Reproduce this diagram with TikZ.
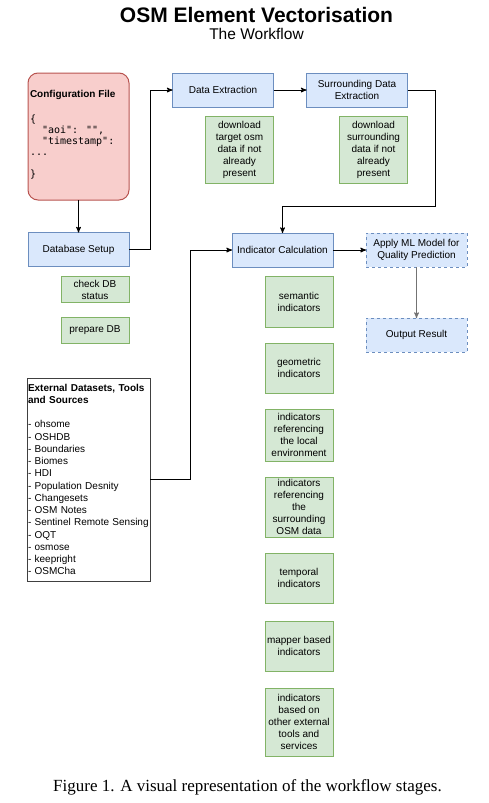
\documentclass[tikz,border=0pt]{standalone}
\usepackage{fontspec}
\setmainfont{Liberation Sans}
\newfontfamily\codefont{DejaVu Sans Mono}
\newfontfamily\captionfont{Liberation Serif}
\usepackage{xcolor}
\usetikzlibrary{arrows,positioning}
\definecolor{blueFill}{HTML}{DAE8FC}
\definecolor{blueLine}{HTML}{6C8EBF}
\definecolor{greenFill}{HTML}{D5E8D4}
\definecolor{greenLine}{HTML}{82B366}
\definecolor{redFill}{HTML}{F8CECC}
\definecolor{redLine}{HTML}{B85450}

\begin{document}
\begin{tikzpicture}[x=1pt,y=-1pt,>=stealth',line width=1pt,
                    font=\fontsize{10}{12}\selectfont,
                    stage/.style={rectangle,draw=blueLine,fill=blueFill,minimum width=101pt,minimum height=34pt,align=center,inner sep=1pt,outer sep=0pt},
                    optional/.style={dash pattern=on 3pt off 3pt},
                    todo/.style={rectangle,draw=greenLine,fill=greenFill,minimum width=68pt,align=center,inner sep=1pt,outer sep=0pt}]
  \useasboundingbox (0,0) rectangle (488,803);

  % Title
  \node[font=\bfseries\fontsize{21}{24}\selectfont] (title) at (256.5,15) {OSM Element Vectorisation};
  \node[font=\fontsize{15.5}{18}\selectfont] (subtitle) at (256.5,34) {The Workflow};

  % Nodes
  \node[rectangle,draw=redLine,fill=redFill,rounded corners=10pt,minimum width=101pt,minimum height=127pt,outer sep=0pt] (config) at (78.5,136.5) {};
  \node[anchor=west,font=\bfseries\fontsize{10}{12}\selectfont,inner sep=0pt] (configtitle) at (29.5,95) {Configuration File};
  \node[anchor=north west,font=\codefont\fontsize{10}{11}\selectfont,align=left,inner sep=0pt] (configcode) at (29.5,114) {\{\\\phantom{xx}"aoi": "",\\\phantom{xx}"timestamp":\\...\\[11pt]\}};

  \node[stage] (dbsetup) at (78.5,249.5) {Database Setup};
  \node[todo,minimum height=26pt,below=10pt of dbsetup.south east,anchor=north east] (checkdb) {check DB\\status};
  \node[todo,minimum height=26pt,below=15pt of checkdb] (preparedb) {prepare DB};

  \node[stage] (dataext) at (223,90) {Data Extraction};
  \node[stage,right=33pt of dataext] (surrext) {Surrounding Data\\Extraction};
  \node[todo,minimum height=67pt,below=9pt of dataext.south east,anchor=north east] (dataextdo) {download\\target osm\\data if not\\already\\present};
  \node[todo,minimum height=67pt,below=9pt of surrext.south east,anchor=north east] (surrextdo) {download\\surrounding\\data if not\\already\\present};

  \node[stage] (indcalc) at (282.5,250) {Indicator Calculation};
  \node[stage,optional,right=33pt of indcalc] (applyml) {Apply ML Model for\\Quality Prediction};
  \node[stage,optional,below=51pt of applyml] (output) {Output Result};

  \node[todo,minimum height=51pt,below=9pt of indcalc.south east,anchor=north east] (semantic) {semantic\\indicators};
  \node[todo,minimum height=50pt,below=16pt of semantic] (geometric) {geometric\\indicators};
  \node[todo,minimum height=52pt,below=16pt of geometric] (localenv) {indicators\\referencing\\the local\\environment};
  \node[todo,minimum height=60pt,below=16pt of localenv] (surrosm) {indicators\\referencing\\the\\surrounding\\OSM data};
  \node[todo,minimum height=50pt,below=16pt of surrosm] (temporal) {temporal\\indicators};
  \node[todo,minimum height=50pt,below=18pt of temporal] (mapper) {mapper based\\indicators};
  \node[todo,minimum height=68pt,below=17pt of mapper] (exttools) {indicators\\based on\\other external\\tools and\\services};

  \node[rectangle,draw=black!75,fill=white,minimum width=123pt,minimum height=203pt,text width=121pt,inner xsep=1pt,outer sep=0pt,align=left,font=\fontsize{10}{12.25}\selectfont] (external) at (88.5,479.5)
    {\textbf{External Datasets, Tools\\and Sources}\\[12.25pt]- ohsome\\- OSHDB\\- Boundaries\\- Biomes\\- HDI\\- Population Desnity\\- Changesets\\- OSM Notes\\- Sentinel Remote Sensing\\- OQT\\- osmose\\- keepright\\- OSMCha};

  % Edges
  \draw[->] (config) -- (dbsetup);
  \draw[->] (dbsetup.east) -- ++(21,0) |- (dataext.west);
  \draw[->] (dataext) -- (surrext);
  \draw[->] (surrext.east) -- ++(28,0) -- ++(0,116) -| (indcalc.north);
  \draw[->] (external.east) -- ++(40,0) |- (indcalc.west);
  \draw[->] (indcalc) -- (applyml);
  \draw[->,draw=black!55] (applyml) -- (output);

  % Caption
  \node[font=\captionfont\fontsize{17}{20}\selectfont] (caption) at (247.5,787) {Figure 1. A visual representation of the workflow stages.};
\end{tikzpicture}
\end{document}
